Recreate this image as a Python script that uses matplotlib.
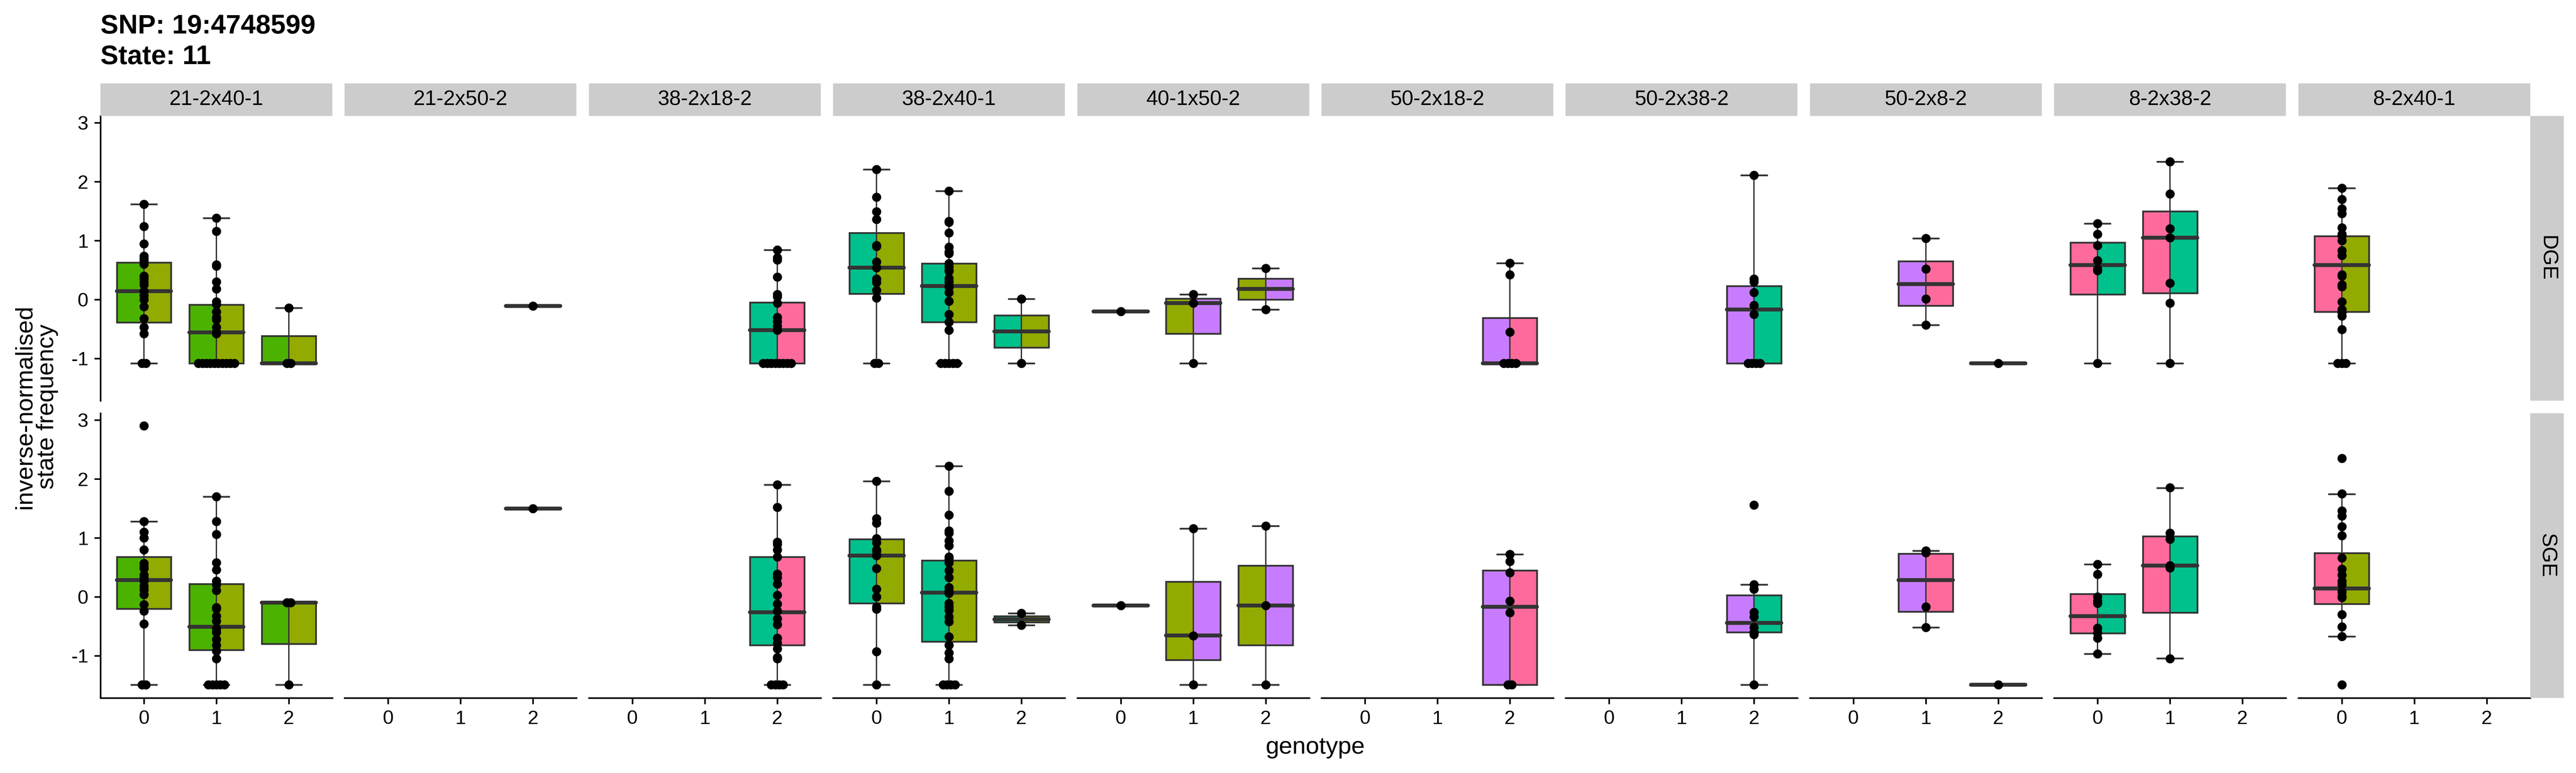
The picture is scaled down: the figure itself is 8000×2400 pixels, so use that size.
import matplotlib.pyplot as plt
from matplotlib.patches import Rectangle

plt.rcParams['font.family'] = ['Liberation Sans', 'DejaVu Sans']

facets = ['21-2x40-1', '21-2x50-2', '38-2x18-2', '38-2x40-1', '40-1x50-2',
          '50-2x18-2', '50-2x38-2', '50-2x8-2', '8-2x38-2', '8-2x40-1']
genotypes = ['0', '1', '2']
rows = ['DGE', 'SGE']

# box stats per genotype: (lower whisker, Q1, median, Q3, upper whisker)
dge_boxes = {
    '21-2x40-1': [(-1.08, -0.39, 0.14, 0.63, 1.62), (-1.08, -1.08, -0.56, -0.09, 1.38),
                  (-1.08, -1.08, -1.08, -0.62, -0.14)],
    '21-2x50-2': [None, None, (-0.11, -0.11, -0.11, -0.11, -0.11)],
    '38-2x18-2': [None, None, (-1.08, -1.08, -0.52, -0.05, 0.84)],
    '38-2x40-1': [(-1.08, 0.10, 0.54, 1.13, 2.21), (-1.08, -0.38, 0.23, 0.61, 1.84),
                  (-1.08, -0.815, -0.54, -0.27, 0.01)],
    '40-1x50-2': [(-0.20, -0.20, -0.20, -0.20, -0.20), (-1.08, -0.58, -0.06, 0.015, 0.09),
                  (-0.17, 0.0, 0.18, 0.355, 0.53)],
    '50-2x18-2': [None, None, (-1.08, -1.08, -1.08, -0.31, 0.62)],
    '50-2x38-2': [None, None, (-1.08, -1.08, -0.17, 0.23, 2.11)],
    '50-2x8-2': [None, (-0.43, -0.105, 0.26, 0.65, 1.04), (-1.08, -1.08, -1.08, -1.08, -1.08)],
    '8-2x38-2': [(-1.08, 0.09, 0.585, 0.97, 1.29), (-1.08, 0.11, 1.05, 1.50, 2.34), None],
    '8-2x40-1': [(-1.08, -0.21, 0.585, 1.075, 1.89), None, None],
}
sge_boxes = {
    '21-2x40-1': [(-1.49, -0.20, 0.285, 0.68, 1.28), (-1.49, -0.90, -0.51, 0.22, 1.70),
                  (-1.49, -0.80, -0.10, -0.10, -0.10)],
    '21-2x50-2': [None, None, (1.50, 1.50, 1.50, 1.50, 1.50)],
    '38-2x18-2': [None, None, (-1.49, -0.82, -0.26, 0.68, 1.90)],
    '38-2x40-1': [(-1.49, -0.11, 0.70, 0.98, 1.96), (-1.49, -0.76, 0.07, 0.62, 2.22),
                  (-0.48, -0.43, -0.38, -0.33, -0.28)],
    '40-1x50-2': [(-0.145, -0.145, -0.145, -0.145, -0.145), (-1.49, -1.07, -0.655, 0.255, 1.16),
                  (-1.49, -0.82, -0.145, 0.53, 1.20)],
    '50-2x18-2': [None, None, (-1.49, -1.49, -0.17, 0.45, 0.72)],
    '50-2x38-2': [None, None, (-1.49, -0.60, -0.44, 0.03, 0.21)],
    '50-2x8-2': [None, (-0.52, -0.25, 0.285, 0.73, 0.78), (-1.49, -1.49, -1.49, -1.49, -1.49)],
    '8-2x38-2': [(-0.97, -0.62, -0.33, 0.05, 0.55), (-1.045, -0.27, 0.53, 1.03, 1.845), None],
    '8-2x40-1': [(-0.67, -0.12, 0.14, 0.745, 1.745), None, None],
}

# individual samples per genotype
dge_points = {
    '21-2x40-1': [[1.62, 1.24, 0.945, 0.74, 0.70, 0.66, 0.60, 0.40, 0.36, 0.30, 0.25, 0.14, 0.07,
                   0.0, -0.12, -0.32, -0.47, -0.58, -1.08, -1.08],
                  [1.38, 1.16, 0.59, 0.57, 0.30, 0.18, -0.04, -0.08, -0.21, -0.30, -0.34, -0.47,
                   -0.56, -0.58, -1.08, -1.08, -1.08, -1.08, -1.08, -1.08, -1.08, -1.08, -1.08, -1.08],
                  [-0.14, -1.08, -1.08]],
    '21-2x50-2': [[], [], [-0.11]],
    '38-2x18-2': [[], [], [0.84, 0.71, 0.67, 0.38, 0.09, 0.05, -0.06, -0.30, -0.37, -0.45, -0.52,
                           -1.08, -1.08, -1.08, -1.08, -1.08, -1.08, -1.08, -1.08]],
    '38-2x40-1': [[2.21, 1.74, 1.49, 1.36, 0.92, 0.90, 0.64, 0.54, 0.35, 0.29, 0.16, 0.03, -1.08, -1.08],
                  [1.84, 1.33, 1.31, 1.13, 0.89, 0.81, 0.78, 0.61, 0.56, 0.50, 0.48, 0.36, 0.30, 0.23,
                   0.21, 0.12, -0.03, -0.25, -0.38, -0.52, -1.08, -1.08, -1.08, -1.08, -1.08],
                  [0.01, -1.08]],
    '40-1x50-2': [[-0.20], [0.09, -0.06, -1.08], [0.53, -0.17]],
    '50-2x18-2': [[], [], [0.62, 0.42, -0.55, -1.08, -1.08, -1.08, -1.08]],
    '50-2x38-2': [[], [], [2.11, 0.35, 0.30, 0.12, -0.10, -0.25, -1.08, -1.08, -1.08, -1.08]],
    '50-2x8-2': [[], [1.04, 0.52, 0.01, -0.43], [-1.08]],
    '8-2x38-2': [[1.29, 1.11, 0.92, 0.66, 0.52, 0.49, -1.08],
                 [2.34, 1.79, 1.20, 1.05, 0.28, -0.06, -1.08], []],
    '8-2x40-1': [[1.89, 1.70, 1.54, 1.46, 1.22, 1.11, 1.08, 1.0, 0.83, 0.75, 0.42, 0.40, 0.25, 0.22,
                  -0.04, -0.17, -0.22, -0.28, -0.51, -1.08, -1.08, -1.08], [], []],
}
sge_points = {
    '21-2x40-1': [[2.90, 1.28, 1.10, 1.0, 0.80, 0.57, 0.51, 0.48, 0.37, 0.33, 0.27, 0.18, 0.12, 0.04,
                   -0.13, -0.24, -0.46, -1.49, -1.49],
                  [1.70, 1.28, 1.06, 0.58, 0.46, 0.27, 0.21, 0.11, -0.18, -0.20, -0.33, -0.41, -0.54,
                   -0.60, -0.72, -0.82, -0.92, -1.05, -1.49, -1.49, -1.49, -1.49, -1.49],
                  [-0.10, -0.10, -1.49]],
    '21-2x50-2': [[], [], [1.50]],
    '38-2x18-2': [[], [], [1.90, 1.52, 0.93, 0.89, 0.80, 0.68, 0.39, 0.33, 0.22, 0.03, -0.12, -0.24,
                           -0.37, -0.47, -0.70, -0.78, -0.88, -1.03, -1.05, -1.49, -1.49, -1.49, -1.49]],
    '38-2x40-1': [[1.96, 1.33, 1.25, 0.99, 0.92, 0.80, 0.77, 0.70, 0.48, 0.13, 0.0, -0.17, -0.21,
                   -0.93, -1.49],
                  [2.22, 1.79, 1.39, 1.12, 1.08, 0.95, 0.87, 0.68, 0.64, 0.58, 0.45, 0.33, 0.16, 0.10,
                   0.06, -0.11, -0.17, -0.23, -0.34, -0.42, -0.68, -0.82, -0.95, -1.05,
                   -1.49, -1.49, -1.49, -1.49],
                  [-0.28, -0.48]],
    '40-1x50-2': [[-0.145], [1.16, -0.66, -1.49], [1.20, -0.145, -1.49]],
    '50-2x18-2': [[], [], [0.72, 0.60, 0.41, -0.07, -0.27, -1.49, -1.49]],
    '50-2x38-2': [[], [], [1.56, 0.21, 0.13, -0.26, -0.34, -0.52, -0.60, -0.64, -1.49]],
    '50-2x8-2': [[], [0.78, 0.75, -0.17, -0.52], [-1.49]],
    '8-2x38-2': [[0.55, 0.38, 0.0, -0.07, -0.11, -0.53, -0.61, -0.70, -0.97],
                 [1.85, 1.08, 0.98, 0.53, 0.49, -1.05], []],
    '8-2x40-1': [[2.35, 1.75, 1.46, 1.37, 1.19, 1.04, 0.66, 0.47, 0.37, 0.27, 0.21, 0.09, 0.01, -0.01,
                  -0.30, -0.51, -0.67, -1.49], [], []],
}

# fill colours of the left / right half of each box (one per parent of the cross)
green, olive, teal, purple, pink = '#4BB300', '#93AA00', '#00C08B', '#C77CFF', '#FF6A9D'
fills = {
    '21-2x40-1': (green, olive), '21-2x50-2': (green, purple), '38-2x18-2': (teal, pink),
    '38-2x40-1': (teal, olive), '40-1x50-2': (olive, purple), '50-2x18-2': (purple, pink),
    '50-2x38-2': (purple, teal), '50-2x8-2': (purple, pink), '8-2x38-2': (pink, teal),
    '8-2x40-1': (pink, olive),
}

W, H = 8000, 2400
EC = '#333333'
XLIM = (-0.6, 2.6)
YLIM = (-1.716, 3.115)
panel_w = 720
row_top = [360, 1283]
panel_h = 884


def fx(px):
    return px / W


def fy(py):
    return 1 - py / H


def spread(vals):
    # tied values are laid out side by side, like a beeswarm
    offs = []
    for i, v in enumerate(vals):
        same = [j for j, u in enumerate(vals) if abs(u - v) < 0.015]
        k = same.index(i)
        offs.append((k - (len(same) - 1) / 2) * 0.055)
    return offs


def draw_box(ax, x, st, cl, cr):
    lo, q1, med, q3, hi = st
    ax.bar(x - 0.1875, q3 - q1, 0.375, bottom=q1, color=cl, lw=0, zorder=2)
    ax.bar(x + 0.1875, q3 - q1, 0.375, bottom=q1, color=cr, lw=0, zorder=2)
    ax.vlines(x, lo, hi, color=EC, lw=1.0, zorder=3)
    ax.hlines([lo, hi], x - 0.1875, x + 0.1875, color=EC, lw=1.3, zorder=3)
    ax.add_patch(Rectangle((x - 0.375, q1), 0.75, q3 - q1, fill=False, ec=EC, lw=1.3, zorder=4))
    ax.hlines(med, x - 0.375, x + 0.375, color=EC, lw=2.9, zorder=4, capstyle='round')


fig = plt.figure(figsize=(W / 300, H / 300), dpi=300)

for r, (row, boxes, points) in enumerate([('DGE', dge_boxes, dge_points),
                                          ('SGE', sge_boxes, sge_points)]):
    for c, name in enumerate(facets):
        left = 312 + c * 758.4
        ax = fig.add_axes([fx(left), fy(row_top[r] + panel_h), panel_w / W, panel_h / H])
        ax.set_xlim(*XLIM)
        ax.set_ylim(*YLIM)
        cl, cr = fills[name]
        for g in range(3):
            if boxes[name][g] is not None:
                draw_box(ax, g, boxes[name][g], cl, cr)
            vals = points[name][g]
            if vals:
                xs = [g + o for o in spread(vals)]
                ax.plot(xs, vals, 'o', color='black', ms=6.8, mew=0, zorder=5)
        for s in ['top', 'right']:
            ax.spines[s].set_visible(False)
        ax.spines['left'].set_visible(c == 0)
        ax.spines['bottom'].set_visible(r == 1)
        for s in ['left', 'bottom']:
            ax.spines[s].set_linewidth(1.2)
        ax.tick_params(length=4.5, width=1.2, labelsize=14.5, pad=4.5, colors='black')
        if c == 0:
            ax.set_yticks([-1, 0, 1, 2, 3])
            ax.set_yticklabels(['-1', '0', '1', '2', '3'])
        else:
            ax.set_yticks([])
        if r == 1:
            ax.set_xticks([0, 1, 2])
            ax.set_xticklabels(genotypes)
        else:
            ax.set_xticks([])
        ax.patch.set_alpha(0)

        if r == 0:
            fig.add_artist(Rectangle((fx(left), fy(360)), panel_w / W, 101 / H,
                                     transform=fig.transFigure, color='#CCCCCC', lw=0))
            fig.text(fx(left + panel_w / 2), fy(309.5), name, ha='center', va='center',
                     fontsize=15.6)

    # row strip on the right
    fig.add_artist(Rectangle((fx(7858), fy(row_top[r] + panel_h)), 104 / W, panel_h / H,
                             transform=fig.transFigure, color='#CCCCCC', lw=0))
    fig.text(fx(7910), fy(row_top[r] + panel_h / 2), row, rotation=-90, ha='center',
             va='center', fontsize=15.6)

fig.text(fx(112), fy(1263), 'inverse-normalised\nstate frequency', rotation=90,
         ha='center', va='center', multialignment='center', fontsize=18, linespacing=1.0)
fig.text(fx(4085), fy(2340), 'genotype', ha='center', va='baseline', fontsize=18)
fig.text(fx(312), fy(104), 'SNP: 19:4748599', fontsize=20, fontweight='bold', va='baseline')
fig.text(fx(312), fy(199), 'State: 11', fontsize=20, fontweight='bold', va='baseline')

fig.savefig('out.png', dpi=300)
